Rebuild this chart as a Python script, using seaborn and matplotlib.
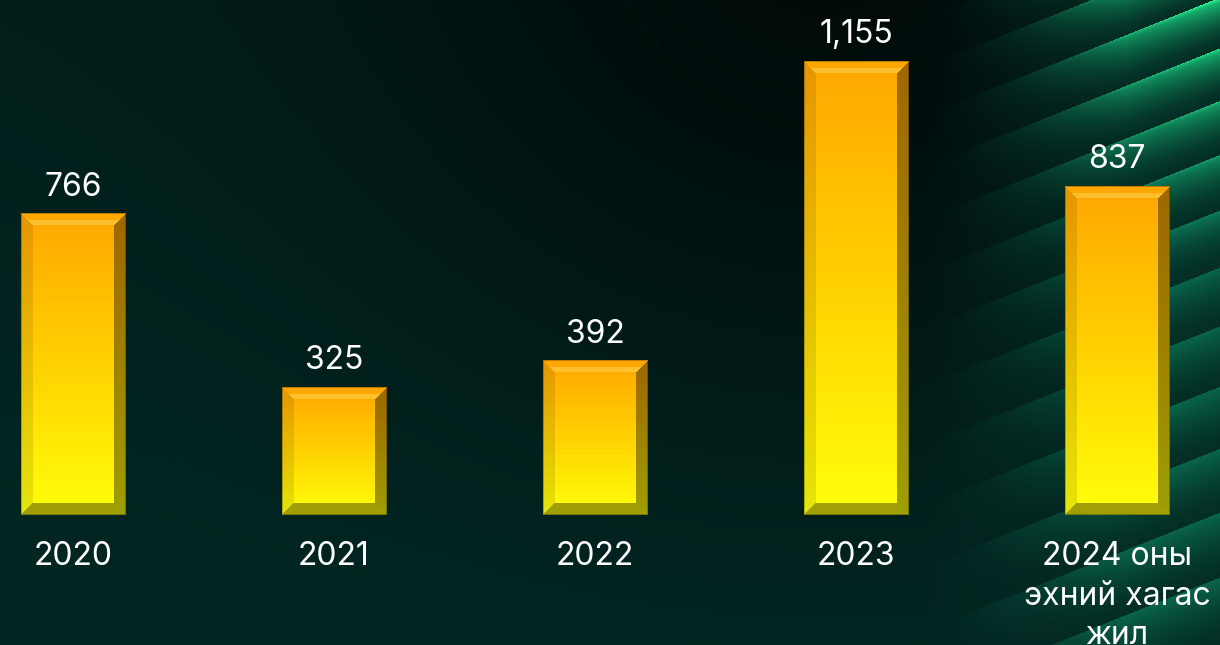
import numpy as np
import matplotlib.pyplot as plt
import seaborn as sns

# data
years = ["2020", "2021", "2022", "2023", "2024 оны\nэхний хагас\nжил"]
counts = [766, 325, 392, 1155, 837]
value_labels = ["766", "325", "392", "1,155", "837"]

W, H, DPI = 1220, 645, 100
BASE_PX = 515          # baseline of bars, pixels from top
PX_PER_UNIT = 0.393    # vertical scale
CAT_PX = 261           # distance between bar centres
FIRST_PX = 73          # centre of first bar

sns.set_theme(style="white")
plt.rcParams["font.family"] = ["Inter", "DejaVu Sans"]

fig = plt.figure(figsize=(W / DPI, H / DPI), dpi=DPI)


def make_background():
    yy, xx = np.mgrid[0:H, 0:W].astype(float)
    base = np.array([2, 36, 32]) / 255.0
    # dark hollow around the top middle / right
    d2 = (xx - 820) ** 2 + (yy + 60) ** 2
    dark = 1 - 0.65 * np.exp(-d2 / (2 * 330.0 ** 2))
    img = base[None, None, :] * dark[..., None]
    img = img * (0.85 + 0.25 * (yy / H))[..., None]

    # diagonal bands on the right, spacing widens a bit lower down
    u = yy + 0.4 * (xx - 1220) + 3
    k = (-50 + np.sqrt(np.clip(2500 + 3.2 * u, 0, None))) / 1.6
    f = np.mod(k, 1.0)
    shade = (1 - f) ** 1.6
    top = np.clip(1 - yy / 260.0, 0, 1) * np.clip((xx - 1000) / 220.0, 0, 1)
    light_lo = np.array([9, 100, 76]) / 255.0
    light_hi = np.array([26, 200, 122]) / 255.0
    light = light_lo * (1 - top[..., None]) + light_hi * top[..., None]
    dark_c = np.array([4, 46, 37]) / 255.0
    band = dark_c + (light - dark_c) * shade[..., None]
    glow = np.exp(-f * 30) * top
    band = band + np.array([0.12, 0.3, 0.17]) * glow[..., None]
    m = (np.clip((xx - 925) / 200.0, 0, 1) ** 1.5)[..., None]
    img = img * (1 - m) + band * m
    return np.clip(img, 0, 1)


def bar_texture(wpx, hpx, bev=12):
    i, j = np.mgrid[0:hpx, 0:wpx].astype(float)
    t = (i / max(hpx - 1, 1)) ** 0.95
    top_c = np.array([255, 166, 0]) / 255.0
    mid_c = np.array([255, 208, 0]) / 255.0
    bot_c = np.array([255, 255, 10]) / 255.0
    t3 = t[..., None]
    face = np.where(t3 < 0.5,
                    top_c * (1 - t3 * 2) + mid_c * (t3 * 2),
                    mid_c * (1 - (t3 - 0.5) * 2) + bot_c * ((t3 - 0.5) * 2))
    dt, db = i, hpx - 1 - i
    dl, dr = j, wpx - 1 - j
    dist = np.stack([dt, db, dl, dr])
    side = np.argmin(dist, axis=0)
    near = dist.min(axis=0) < bev
    out = face.copy()
    shade = np.array([1.0, 0.63, 0.9, 0.62])
    for s in range(4):
        sel = near & (side == s)
        out[sel] = face[sel] * shade[s]
    # light line on the inner edge of the top bevel
    hl = near & (side == 0) & (dt >= bev - 5)
    out[hl] = out[hl] * 0.55 + np.array([1.0, 0.86, 0.4]) * 0.45
    # thin dark outline
    edge = dist.min(axis=0) < 1
    out[edge] = out[edge] * 0.75
    return np.clip(out, 0, 1)


bg_ax = fig.add_axes([0, 0, 1, 1], zorder=0)
bg_ax.imshow(make_background(), extent=[0, W, H, 0], aspect="auto")
bg_ax.axis("off")

ax = fig.add_axes([0, (H - BASE_PX) / H, 1, BASE_PX / H], zorder=1)
ax.patch.set_alpha(0)
sns.barplot(x=years, y=counts, width=0.4, color="#ffc000", ax=ax)

xmin = -FIRST_PX / CAT_PX
xlim = (xmin, xmin + W / CAT_PX)
ylim = (0, BASE_PX / PX_PER_UNIT)
ax.set_xlim(*xlim)
ax.set_ylim(*ylim)

for p, lab in zip(ax.patches, value_labels):
    x0, y0 = p.get_x(), p.get_y()
    x1, y1 = x0 + p.get_width(), y0 + p.get_height()
    (px0, py0), (px1, py1) = ax.transData.transform([(x0, y0), (x1, y1)])
    tex = bar_texture(int(round(px1 - px0)), int(round(py1 - py0)))
    ax.imshow(tex, extent=[x0, x1, y0, y1], aspect="auto", zorder=3,
              interpolation="nearest")
    p.set_alpha(0)
    ax.annotate(lab, (x0 + p.get_width() / 2, y1), xytext=(0, 13),
                textcoords="offset points", ha="center", va="baseline",
                color="white", fontsize=23)

ax.set_xlim(*xlim)
ax.set_ylim(*ylim)
ax.set_yticks([])
ax.set_xlabel("")
ax.set_ylabel("")
# the last label runs off the bottom edge, as in the reference
ax.tick_params(axis="x", length=0, pad=19, labelsize=23, labelcolor="white")
for lab in ax.get_xticklabels():
    lab.set_linespacing(1.35)
sns.despine(ax=ax, left=True, bottom=True)

fig.savefig("out.png", dpi=DPI)
